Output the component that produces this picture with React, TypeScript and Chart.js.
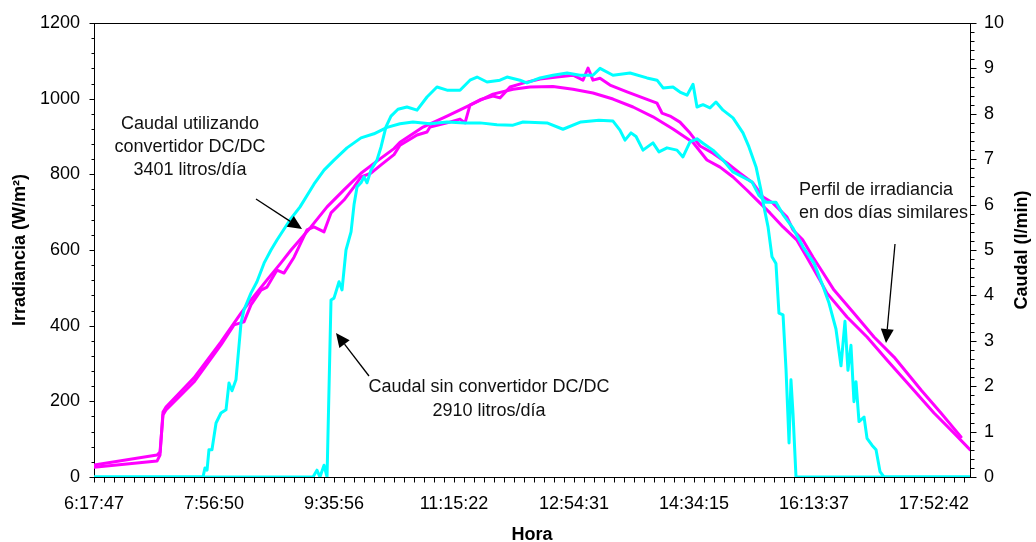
import React, { useEffect, useRef } from "react";
import { Chart, registerables } from "chart.js";

Chart.register(...registerables);

// ---- Data (x = position on the time axis, 1 unit = one labelled interval) ----
const TIME_LABELS = ["6:17:47", "7:56:50", "9:35:56", "11:15:22", "12:54:31", "14:34:15", "16:13:37", "17:52:42"];
const X_MAX = 7.3;
const IRR_MAX = 1200;
const IRR_STEP = 200;
const FLOW_MAX = 10;
const FLOW_STEP = 1;

// Irradiance (W/m²), day 1 (jagged profile, higher peak)
const IRRADIANCE_DAY1: [number, number][] = [
  [0, 32], [0.525, 58], [0.55, 66], [0.575, 164], [0.6, 177], [0.833, 251], [1.058, 349], [1.167, 402],
  [1.25, 410], [1.308, 455], [1.392, 494], [1.442, 502], [1.525, 547], [1.583, 539], [1.667, 581],
  [1.775, 653], [1.833, 661], [1.917, 648], [1.975, 698], [2.083, 732], [2.167, 767], [2.225, 793],
  [2.308, 803], [2.392, 825], [2.5, 852], [2.55, 877], [2.692, 904], [2.775, 912], [2.8, 925],
  [2.942, 936], [3.05, 946], [3.092, 936], [3.133, 983], [3.217, 997], [3.325, 1007], [3.383, 1002],
  [3.467, 1031], [3.575, 1041], [3.717, 1052], [3.858, 1057], [3.992, 1062], [4.075, 1049], [4.117, 1081],
  [4.158, 1049], [4.217, 1054], [4.3, 1036], [4.442, 1018], [4.575, 1002], [4.692, 988], [4.733, 962],
  [4.8, 954], [4.883, 938], [4.967, 909], [5.05, 875], [5.158, 856], [5.275, 830], [5.383, 803],
  [5.492, 777], [5.575, 740], [5.658, 724], [5.775, 687], [5.825, 653], [5.908, 626], [5.992, 581],
  [6.075, 540], [6.167, 494], [6.333, 433], [6.5, 370], [6.667, 317], [6.892, 230], [7.058, 169], [7.225, 106],
];

// Irradiance (W/m²), day 2 (smooth profile)
const IRRADIANCE_DAY2: [number, number][] = [
  [0, 26], [0.525, 42], [0.55, 58], [0.575, 172], [0.6, 185], [0.833, 262], [1.058, 357], [1.225, 433],
  [1.308, 468], [1.442, 521], [1.558, 566], [1.642, 600], [1.808, 661], [1.942, 714], [2.083, 759],
  [2.225, 803], [2.358, 835], [2.5, 868], [2.55, 885], [2.742, 925], [2.942, 954], [3.133, 983],
  [3.325, 1012], [3.492, 1025], [3.633, 1031], [3.825, 1032], [3.992, 1025], [4.158, 1015], [4.325, 999],
  [4.492, 978], [4.658, 952], [4.825, 920], [4.992, 884], [5.108, 838], [5.217, 819], [5.325, 793],
  [5.442, 758], [5.525, 732], [5.633, 698], [5.742, 661], [5.858, 626], [5.942, 580], [6.05, 520],
  [6.108, 486], [6.275, 423], [6.442, 370], [6.608, 309], [6.808, 238], [7.0, 169], [7.167, 116], [7.3, 72],
];

// Flow (l/min) using the DC/DC converter
const FLOW_WITH_CONVERTER: [number, number][] = [
  [0, 0], [0.908, 0], [0.925, 0.2], [0.942, 0.15], [0.958, 0.6], [0.983, 0.6], [1.017, 1.19], [1.058, 1.41],
  [1.1, 1.48], [1.125, 2.07], [1.15, 1.9], [1.183, 2.14], [1.225, 3.39], [1.25, 3.68], [1.308, 4.05],
  [1.358, 4.3], [1.417, 4.71], [1.475, 5.0], [1.525, 5.22], [1.633, 5.66], [1.717, 5.95], [1.833, 6.45],
  [1.917, 6.76], [2.0, 6.98], [2.108, 7.25], [2.225, 7.47], [2.333, 7.56], [2.442, 7.7], [2.55, 7.78],
  [2.658, 7.82], [2.8, 7.78], [2.942, 7.82], [3.092, 7.8], [3.217, 7.8], [3.358, 7.76], [3.492, 7.75],
  [3.575, 7.82], [3.775, 7.8], [3.908, 7.66], [4.058, 7.82], [4.208, 7.86], [4.325, 7.84], [4.383, 7.64],
  [4.425, 7.42], [4.475, 7.58], [4.517, 7.5], [4.575, 7.2], [4.658, 7.36], [4.708, 7.16], [4.775, 7.25],
  [4.858, 7.2], [4.908, 7.05], [4.967, 7.38], [5.025, 7.45], [5.075, 7.35], [5.158, 7.2], [5.242, 6.98],
  [5.325, 6.72], [5.425, 6.58], [5.483, 6.5], [5.542, 6.2], [5.6, 6.05], [5.683, 6.05], [5.742, 5.78],
  [5.825, 5.48], [5.908, 5.07], [6.0, 4.71], [6.075, 4.2], [6.125, 3.83], [6.183, 3.26], [6.225, 2.45],
  [6.258, 3.43], [6.283, 2.35], [6.308, 2.9], [6.333, 1.66], [6.35, 2.1], [6.375, 1.22], [6.417, 1.32],
  [6.442, 0.85], [6.483, 0.7], [6.517, 0.6], [6.55, 0.12], [6.583, 0], [7.3, 0],
];

// Flow (l/min) without the DC/DC converter
const FLOW_WITHOUT_CONVERTER: [number, number][] = [
  [0, 0], [1.825, 0], [1.858, 0.15], [1.883, 0], [1.917, 0.26], [1.942, 0], [1.975, 3.9], [2.0, 3.94],
  [2.042, 4.3], [2.067, 4.12], [2.1, 5.0], [2.142, 5.4], [2.167, 6.0], [2.192, 6.39], [2.225, 6.48],
  [2.25, 6.61], [2.275, 6.48], [2.308, 6.76], [2.358, 6.98], [2.392, 7.27], [2.433, 7.71], [2.475, 7.95],
  [2.533, 8.1], [2.608, 8.15], [2.692, 8.08], [2.775, 8.37], [2.858, 8.59], [2.942, 8.52], [3.05, 8.52],
  [3.133, 8.74], [3.192, 8.81], [3.275, 8.7], [3.383, 8.74], [3.442, 8.81], [3.55, 8.74], [3.608, 8.68],
  [3.717, 8.79], [3.825, 8.85], [3.942, 8.9], [4.05, 8.85], [4.158, 8.85], [4.217, 9.0], [4.325, 8.85],
  [4.467, 8.9], [4.608, 8.79], [4.692, 8.74], [4.742, 8.57], [4.825, 8.59], [4.883, 8.48], [4.942, 8.41],
  [4.992, 8.65], [5.025, 8.15], [5.075, 8.2], [5.133, 8.13], [5.183, 8.26], [5.242, 8.08], [5.325, 7.91],
  [5.408, 7.58], [5.458, 7.27], [5.517, 6.83], [5.558, 6.32], [5.583, 5.95], [5.617, 5.51], [5.65, 4.85],
  [5.683, 4.7], [5.708, 3.61], [5.742, 3.57], [5.767, 2.36], [5.792, 0.75], [5.808, 2.14], [5.825, 1.4],
  [5.85, 0], [7.3, 0],
];

const FONT = "'Liberation Sans', Arial, Helvetica, sans-serif";
const MAGENTA = "#FF00FF";
const CYAN = "#00FFFF";

const toXY = (arr: [number, number][]) => arr.map(([x, y]) => ({ x, y }));

function drawArrow(ctx: CanvasRenderingContext2D, x1: number, y1: number, x2: number, y2: number) {
  const ang = Math.atan2(y2 - y1, x2 - x1);
  const headLen = 14;
  const headHalf = 6.5;
  const bx = x2 - headLen * Math.cos(ang);
  const by = y2 - headLen * Math.sin(ang);
  ctx.beginPath();
  ctx.moveTo(x1, y1);
  ctx.lineTo(bx, by);
  ctx.lineWidth = 1.3;
  ctx.strokeStyle = "#000";
  ctx.stroke();
  ctx.beginPath();
  ctx.moveTo(x2, y2);
  ctx.lineTo(bx + headHalf * Math.sin(ang), by - headHalf * Math.cos(ang));
  ctx.lineTo(bx - headHalf * Math.sin(ang), by + headHalf * Math.cos(ang));
  ctx.closePath();
  ctx.fillStyle = "#000";
  ctx.fill();
}

const framePlugin = {
  id: "frameTicks",
  beforeDatasetsDraw(chart: any) {
    const { ctx, chartArea: a, scales } = chart;
    const L = Math.round(a.left) + 0.5;
    const R = Math.round(a.right) + 0.5;
    const T = Math.round(a.top) + 0.5;
    const B = Math.round(a.bottom) + 0.5;
    ctx.save();
    ctx.strokeStyle = "#000";
    ctx.lineWidth = 1;
    ctx.strokeRect(L, T, R - L, B - T);
    ctx.beginPath();
    // x ticks: 12 per labelled interval
    for (let i = 0; i / 12 <= X_MAX + 1e-9; i++) {
      const px = Math.round(scales.x.getPixelForValue(i / 12)) + 0.5;
      ctx.moveTo(px, B);
      ctx.lineTo(px, B + 5);
    }
    // left ticks: minor every 40
    for (let v = 0; v <= IRR_MAX; v += 40) {
      const py = Math.round(scales.y.getPixelForValue(v)) + 0.5;
      const len = v % IRR_STEP === 0 ? 5 : 3;
      ctx.moveTo(L - len, py);
      ctx.lineTo(L, py);
    }
    // right ticks: minor every 0.2
    for (let k = 0; k <= FLOW_MAX * 5; k++) {
      const py = Math.round(scales.y1.getPixelForValue(k / 5)) + 0.5;
      const len = k % 5 === 0 ? 6 : 4;
      ctx.moveTo(R, py);
      ctx.lineTo(R + len, py);
    }
    ctx.stroke();
    ctx.restore();
  },
  afterDraw(chart: any) {
    const { ctx, chartArea: a } = chart;
    ctx.save();
    ctx.fillStyle = "#000";
    // axis titles
    ctx.font = `bold 18px ${FONT}`;
    ctx.textAlign = "center";
    ctx.textBaseline = "middle";
    ctx.fillText("Hora", (a.left + a.right) / 2, 535);
    const midY = (a.top + a.bottom) / 2;
    ctx.save();
    ctx.translate(20, midY);
    ctx.rotate(-Math.PI / 2);
    ctx.fillText("Irradiancia (W/m²)", 0, 0);
    ctx.restore();
    ctx.save();
    ctx.translate(1022, midY);
    ctx.rotate(-Math.PI / 2);
    ctx.fillText("Caudal (l/min)", 0, 0);
    ctx.restore();

    // annotations
    ctx.font = `18px ${FONT}`;
    ctx.fillStyle = "#111";
    ctx.textAlign = "center";
    ctx.fillText("Caudal utilizando", 190, 124);
    ctx.fillText("convertidor DC/DC", 190, 147);
    ctx.fillText("3401 litros/día", 190, 170);
    ctx.fillText("Caudal sin convertidor DC/DC", 489, 387);
    ctx.fillText("2910 litros/día", 489, 411);
    ctx.textAlign = "left";
    ctx.fillText("Perfil de irradiancia", 799, 190);
    ctx.fillText("en dos días similares", 799, 213);

    drawArrow(ctx, 256, 199, 302, 229);
    drawArrow(ctx, 369, 376, 336, 333);
    drawArrow(ctx, 895, 244, 886, 343);
    ctx.restore();
  },
};

export default function App() {
  const canvasRef = useRef<HTMLCanvasElement | null>(null);

  useEffect(() => {
    if (!canvasRef.current) return;
    const chart = new Chart(canvasRef.current, {
      type: "line",
      data: {
        datasets: [
          { label: "Caudal con convertidor", data: toXY(FLOW_WITH_CONVERTER), yAxisID: "y1", borderColor: CYAN },
          { label: "Caudal sin convertidor", data: toXY(FLOW_WITHOUT_CONVERTER), yAxisID: "y1", borderColor: CYAN },
          { label: "Irradiancia día 1", data: toXY(IRRADIANCE_DAY1), yAxisID: "y", borderColor: MAGENTA },
          { label: "Irradiancia día 2", data: toXY(IRRADIANCE_DAY2), yAxisID: "y", borderColor: MAGENTA },
        ],
      },
      options: {
        animation: false,
        responsive: false,
        maintainAspectRatio: false,
        layout: { padding: { top: 23, left: 0, right: 0, bottom: 0 } },
        plugins: { legend: { display: false }, tooltip: { enabled: false } },
        elements: {
          point: { radius: 0 },
          line: { tension: 0, borderWidth: 3, borderJoinStyle: "round", borderCapStyle: "round", fill: false },
        },
        scales: {
          x: {
            type: "linear",
            min: 0,
            max: X_MAX,
            grid: { display: false },
            border: { display: false },
            afterBuildTicks: (s: any) => {
              s.ticks = TIME_LABELS.map((_, i) => ({ value: i }));
            },
            ticks: {
              autoSkip: false,
              maxRotation: 0,
              minRotation: 0,
              padding: 8,
              color: "#000",
              font: { family: FONT, size: 18 },
              callback: (_v: any, i: number) => TIME_LABELS[i] ?? "",
            },
            afterFit: (s: any) => {
              s.height = 65;
            },
          },
          y: {
            type: "linear",
            position: "left",
            min: 0,
            max: IRR_MAX,
            grid: { display: false },
            border: { display: false },
            ticks: {
              stepSize: IRR_STEP,
              padding: 6,
              color: "#000",
              font: { family: FONT, size: 18 },
              callback: (v: any) => String(v),
            },
            afterFit: (s: any) => {
              s.width = 94;
            },
          },
          y1: {
            type: "linear",
            position: "right",
            min: 0,
            max: FLOW_MAX,
            grid: { display: false },
            border: { display: false },
            ticks: {
              stepSize: FLOW_STEP,
              padding: 6,
              color: "#000",
              font: { family: FONT, size: 18 },
              callback: (v: any) => String(v),
            },
            afterFit: (s: any) => {
              s.width = 66;
            },
          },
        },
      } as any,
      plugins: [framePlugin],
    });
    return () => chart.destroy();
  }, []);

  return (
    <div style={{ position: "fixed", left: 0, top: 0, width: 1036, height: 542, background: "#fff" }}>
      <canvas ref={canvasRef} width={1036} height={542} style={{ display: "block" }} />
    </div>
  );
}
